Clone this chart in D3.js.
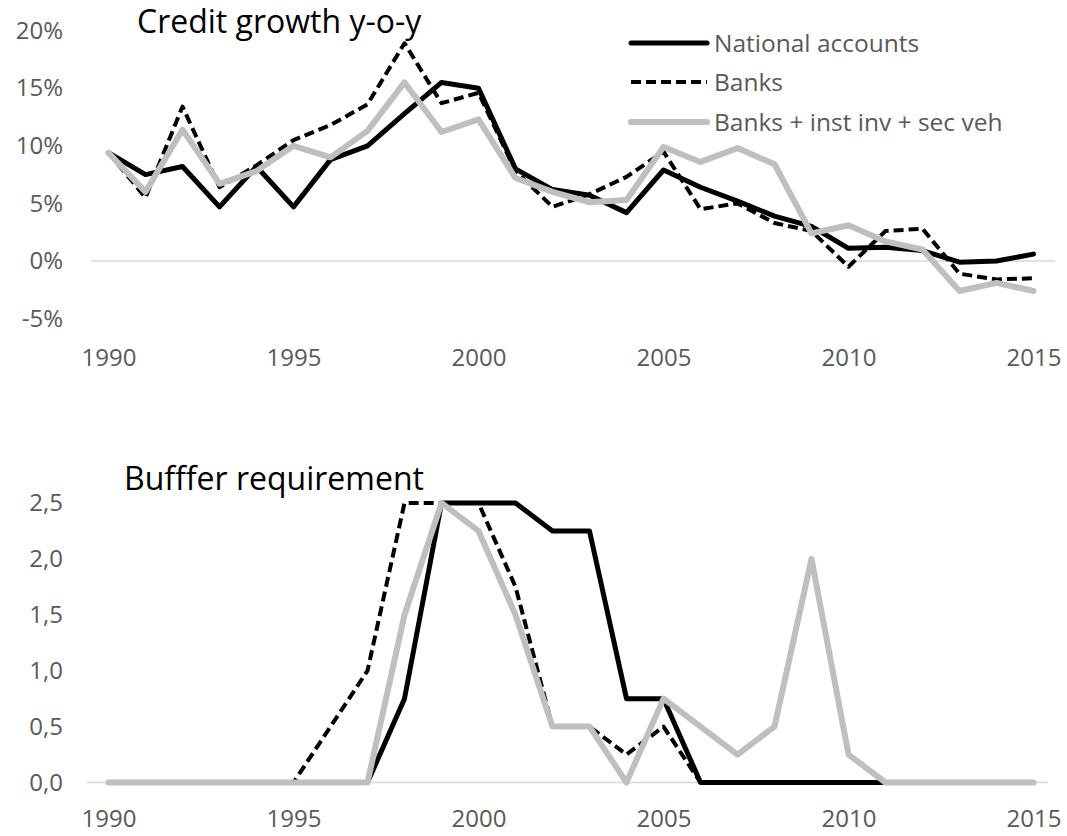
<!DOCTYPE html>
<html>
<head>
<meta charset="utf-8">
<script src="https://cdn.jsdelivr.net/npm/d3@7"></script>
<style>
  html, body { margin: 0; padding: 0; background: #fff; }
  svg { display: block; }
  text { font-family: "Open Sans", "Noto Sans", sans-serif; }
</style>
</head>
<body>
<svg id="chart" width="1067" height="836"></svg>
<script>
// Years on the category axis
const years = [1990, 1991, 1992, 1993, 1994, 1995, 1996, 1997, 1998, 1999,
               2000, 2001, 2002, 2003, 2004, 2005, 2006, 2007, 2008, 2009,
               2010, 2011, 2012, 2013, 2014, 2015];
const xTickYears = [1990, 1995, 2000, 2005, 2010, 2015];

// Credit growth, % y-o-y
const nationalGrowth = [9.4, 7.5, 8.2, 4.7, 8.2, 4.7, 8.8, 10.0, 12.8, 15.5,
                        15.0, 8.0, 6.2, 5.7, 4.2, 7.9, 6.4, 5.2, 3.9, 3.0,
                        1.1, 1.2, 0.9, -0.1, 0.0, 0.6];
const banksGrowth    = [9.4, 5.5, 13.4, 6.4, 8.3, 10.5, 11.8, 13.6, 18.9, 13.7,
                        14.6, 7.8, 4.7, 5.8, 7.3, 9.5, 4.5, 5.0, 3.3, 2.6,
                        -0.5, 2.6, 2.8, -1.1, -1.6, -1.5];
const broadGrowth    = [9.4, 6.0, 11.4, 6.7, 7.8, 10.0, 9.0, 11.3, 15.5, 11.2,
                        12.3, 7.2, 6.0, 5.1, 5.3, 9.9, 8.6, 9.8, 8.4, 2.4,
                        3.1, 1.7, 1.0, -2.6, -1.9, -2.6];

// Buffer requirement
const nationalBuffer = [0, 0, 0, 0, 0, 0, 0, 0, 0.75, 2.5,
                        2.5, 2.5, 2.25, 2.25, 0.75, 0.75, 0, 0, 0, 0,
                        0, 0, 0, 0, 0, 0];
const banksBuffer    = [0, 0, 0, 0, 0, 0, 0.5, 1.0, 2.5, 2.5,
                        2.5, 1.75, 0.5, 0.5, 0.25, 0.5, 0, 0, 0, 0,
                        0, 0, 0, 0, 0, 0];
const broadBuffer    = [0, 0, 0, 0, 0, 0, 0, 0, 1.5, 2.5,
                        2.25, 1.5, 0.5, 0.5, 0, 0.75, 0.5, 0.25, 0.5, 2.0,
                        0.25, 0, 0, 0, 0, 0];

const growthTicks = [-5, 0, 5, 10, 15, 20];
const bufferTicks = [0, 0.5, 1.0, 1.5, 2.0, 2.5];

const seriesNames = ["National accounts", "Banks", "Banks + inst inv + sec veh"];
const seriesStyles = [
  { color: "#000000", width: 5, dash: null },
  { color: "#000000", width: 4, dash: "10,5" },
  { color: "#BFBFBF", width: 6, dash: null }
];

const svg = d3.select("#chart");
const axisColor = "#595959";
const labelFont = "24px";

const x = d3.scalePoint().domain(years).range([90, 1052]).padding(0.5);

function drawPanel(opts) {
  const g = svg.append("g");
  const y = d3.scaleLinear().domain(opts.domain).range(opts.range);

  // zero baseline
  g.append("line")
    .attr("x1", opts.baseX[0]).attr("x2", opts.baseX[1])
    .attr("y1", y(0)).attr("y2", y(0))
    .attr("stroke", "#D9D9D9").attr("stroke-width", 1.5);

  // y axis labels (no line, no ticks)
  const yAxis = d3.axisLeft(y).tickValues(opts.ticks).tickSize(0).tickPadding(0)
    .tickFormat(opts.fmt);
  const ya = g.append("g").attr("transform", "translate(63,0)").call(yAxis);
  ya.select(".domain").remove();
  ya.selectAll("text").attr("fill", axisColor).style("font-size", labelFont)
    .style("font-family", "'Open Sans', sans-serif");

  // x axis labels
  const xAxis = d3.axisBottom(x).tickValues(xTickYears).tickSize(0).tickPadding(0);
  const xa = g.append("g").attr("transform", `translate(0,${opts.xLabelY})`).call(xAxis);
  xa.select(".domain").remove();
  xa.selectAll("text").attr("fill", axisColor).style("font-size", labelFont)
    .style("font-family", "'Open Sans', sans-serif");

  const line = d3.line().x((d, i) => x(years[i])).y(d => y(d));
  opts.series.forEach((vals, k) => {
    const s = seriesStyles[k];
    g.append("path")
      .datum(vals)
      .attr("d", line)
      .attr("fill", "none")
      .attr("stroke", s.color)
      .attr("stroke-width", s.width)
      .attr("stroke-linejoin", "round")
      .attr("stroke-linecap", s.dash ? "butt" : "round")
      .attr("stroke-dasharray", s.dash);
  });

  g.append("text")
    .attr("x", opts.titleX).attr("y", opts.titleY)
    .attr("fill", "#000")
    .style("font-size", "32px")
    .text(opts.title);
}

drawPanel({
  domain: [-5, 20], range: [318.6, 30.6],
  ticks: growthTicks, fmt: d => d + "%",
  baseX: [91, 1055], xLabelY: 349,
  series: [nationalGrowth, banksGrowth, broadGrowth],
  title: "Credit growth y-o-y", titleX: 137, titleY: 33
});

drawPanel({
  domain: [0, 2.5], range: [782.5, 503],
  ticks: bufferTicks, fmt: d => d3.format(".1f")(d).replace(".", ","),
  baseX: [87, 1048], xLabelY: 810,
  series: [nationalBuffer, banksBuffer, broadBuffer],
  title: "Bufffer requirement", titleX: 124, titleY: 490
});

// legend
const legend = svg.append("g");
const legendY = [43, 82, 122];
seriesNames.forEach((name, k) => {
  const s = seriesStyles[k];
  legend.append("line")
    .attr("x1", 631).attr("x2", 707)
    .attr("y1", legendY[k]).attr("y2", legendY[k])
    .attr("stroke", s.color).attr("stroke-width", s.width)
    .attr("stroke-linecap", s.dash ? "butt" : "round")
    .attr("stroke-dasharray", s.dash);
  legend.append("text")
    .attr("x", 714).attr("y", legendY[k])
    .attr("dy", "0.35em")
    .attr("fill", axisColor)
    .style("font-size", "24.5px")
    .text(name);
});
</script>
</body>
</html>
